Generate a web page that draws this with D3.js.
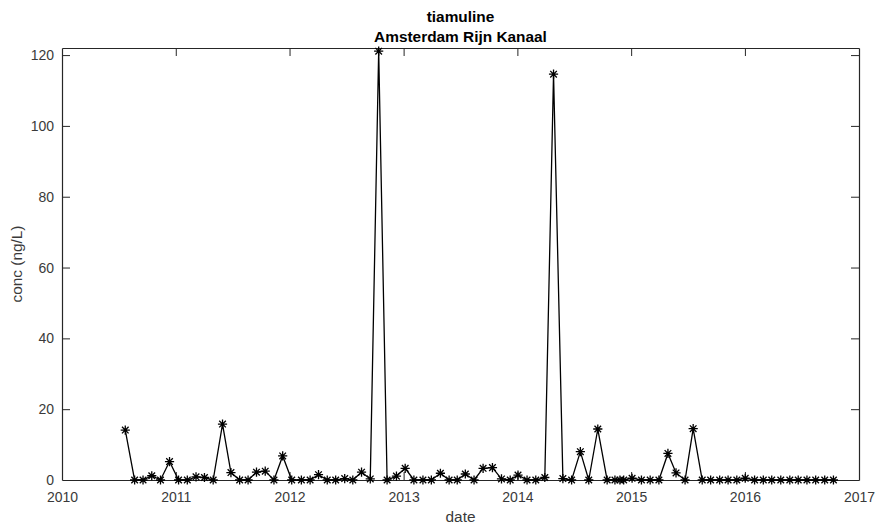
<!DOCTYPE html>
<html>
<head>
<meta charset="utf-8">
<script src="https://cdn.jsdelivr.net/npm/d3@7"></script>
<style>
  body { margin: 0; background: #fff; }
  svg { display: block; font-family: "Liberation Sans", Arial, sans-serif; }
</style>
</head>
<body>
<script>
// sample dates (4-weekly) and measured concentrations, ng/L
var sampleDates = [
  "2010-07-23","2010-08-22","2010-09-18","2010-10-16","2010-11-13","2010-12-12",
  "2011-01-10","2011-02-07","2011-03-07","2011-04-03","2011-05-01","2011-05-31",
  "2011-06-27","2011-07-25","2011-08-21","2011-09-17","2011-10-15","2011-11-12",
  "2011-12-10","2012-01-08","2012-02-08","2012-03-07","2012-04-03","2012-05-01",
  "2012-05-28","2012-06-26","2012-07-22","2012-08-19","2012-09-16","2012-10-13",
  "2012-11-09","2012-12-09","2013-01-06","2013-02-03","2013-03-04","2013-03-31",
  "2013-04-29","2013-05-27","2013-06-22","2013-07-18","2013-08-15","2013-09-13",
  "2013-10-13","2013-11-11","2013-12-09","2014-01-03","2014-02-01","2014-03-01",
  "2014-03-30","2014-04-27","2014-05-27","2014-06-24","2014-07-22","2014-08-18",
  "2014-09-16","2014-10-16","2014-11-10","2014-11-26","2014-12-08","2015-01-04",
  "2015-02-03","2015-03-03","2015-03-31","2015-04-29","2015-05-25","2015-06-23",
  "2015-07-19","2015-08-17","2015-09-13","2015-10-12","2015-11-08","2015-12-06",
  "2016-01-02","2016-02-01","2016-02-29","2016-03-27","2016-04-25","2016-05-24",
  "2016-06-20","2016-07-18","2016-08-15","2016-09-13","2016-10-11"
];
var concValues = [
  14.1, 0, 0, 1.2, 0, 5.2,
  0, 0, 0.9, 0.7, 0, 15.8,
  2.1, 0, 0, 2.2, 2.5, 0,
  6.8, 0, 0, 0, 1.5, 0,
  0, 0.4, 0, 2.2, 0.3, 121.1,
  0, 1.1, 3.3, 0, 0, 0,
  1.9, 0, 0, 1.7, 0, 3.3,
  3.5, 0.3, 0, 1.4, 0, 0,
  0.7, 114.6, 0.4, 0, 8.0, 0,
  14.4, 0, 0, 0, 0, 0.5,
  0, 0, 0, 7.5, 2.0, 0,
  14.5, 0, 0, 0, 0, 0,
  0.5, 0, 0, 0, 0, 0,
  0, 0, 0, 0, 0
];
var yearTicks = [2010, 2011, 2012, 2013, 2014, 2015, 2016, 2017];
var concTicks = [0, 20, 40, 60, 80, 100, 120];
var titleLines = ["tiamuline", "Amsterdam Rijn Kanaal"];

var width = 876, height = 532;
var margin = {top: 48, right: 17, bottom: 52, left: 62};
var plotW = width - margin.left - margin.right,
    plotH = height - margin.top - margin.bottom;
var axisColor = "#262626", tickLen = 8;

var parseDate = d3.timeParse("%Y-%m-%d");
var data = sampleDates.map(function(d, i){ return {date: parseDate(d), value: concValues[i]}; });

var svg = d3.select("body").append("svg")
  .attr("width", width)
  .attr("height", height);

var g = svg.append("g")
  .attr("transform", "translate(" + margin.left + "," + margin.top + ")");

var x = d3.scaleTime()
  .domain([new Date(yearTicks[0], 0, 1), new Date(yearTicks[yearTicks.length - 1], 0, 1)])
  .range([0, plotW]);
var y = d3.scaleLinear()
  .domain([0, 122])
  .range([plotH, 0]);

var xTickDates = yearTicks.map(function(yr){ return new Date(yr, 0, 1); });

//bottom and top axes, ticks pointing inward
var xBottom = g.append("g")
  .attr("transform", "translate(0," + plotH + ")")
  .call(d3.axisBottom(x).tickValues(xTickDates).tickFormat(d3.timeFormat("%Y"))
    .tickSizeInner(-tickLen).tickSizeOuter(0).tickPadding(12));
var xTop = g.append("g")
  .call(d3.axisTop(x).tickValues(xTickDates).tickFormat("")
    .tickSizeInner(-tickLen).tickSizeOuter(0));

//left and right axes
var yLeft = g.append("g")
  .call(d3.axisLeft(y).tickValues(concTicks)
    .tickSizeInner(-tickLen).tickSizeOuter(0).tickPadding(8));
var yRight = g.append("g")
  .attr("transform", "translate(" + plotW + ",0)")
  .call(d3.axisRight(y).tickValues(concTicks).tickFormat("")
    .tickSizeInner(-tickLen).tickSizeOuter(0));

[xBottom, xTop, yLeft, yRight].forEach(function(ax){
  ax.select(".domain").attr("stroke", axisColor).attr("stroke-width", 1.2);
  ax.selectAll(".tick line").attr("stroke", axisColor).attr("stroke-width", 1);
  ax.selectAll(".tick text")
    .attr("fill", "#3a3a3a")
    .style("font-size", "14px")
    .style("font-family", "'Liberation Sans', Arial, sans-serif");
});
//hide end ticks that sit on the box corners
xBottom.selectAll(".tick").filter(function(d, i){ return i === 0 || i === yearTicks.length - 1; })
  .select("line").remove();
xTop.selectAll(".tick").filter(function(d, i){ return i === 0 || i === yearTicks.length - 1; })
  .select("line").remove();
yLeft.selectAll(".tick").filter(function(d){ return d === 0; }).select("line").remove();
yRight.selectAll(".tick").filter(function(d){ return d === 0; }).select("line").remove();

//data line
var line = d3.line()
  .x(function(d){ return x(d.date); })
  .y(function(d){ return y(d.value); });

g.append("path")
  .datum(data)
  .attr("fill", "none")
  .attr("stroke", "#000")
  .attr("stroke-width", 1.3)
  .attr("d", line);

//asterisk markers
var r = 4.6, rd = r * 0.72;
var starPath = "M" + (-r) + ",0L" + r + ",0" +
  "M0," + (-r) + "L0," + r +
  "M" + (-rd) + "," + (-rd) + "L" + rd + "," + rd +
  "M" + (-rd) + "," + rd + "L" + rd + "," + (-rd);

g.append("g")
  .selectAll("path")
  .data(data)
  .enter()
  .append("path")
  .attr("transform", function(d){ return "translate(" + x(d.date) + "," + y(d.value) + ")"; })
  .attr("d", starPath)
  .attr("fill", "none")
  .attr("stroke", "#000")
  .attr("stroke-width", 1.3);

//title
svg.append("g")
  .selectAll("text")
  .data(titleLines)
  .enter()
  .append("text")
  .attr("x", margin.left + plotW / 2)
  .attr("y", function(d, i){ return 22 + i * 20; })
  .attr("text-anchor", "middle")
  .attr("fill", "#000")
  .style("font-size", "15.4px")
  .style("font-weight", "bold")
  .text(function(d){ return d; });

//axis labels
svg.append("text")
  .attr("x", margin.left + plotW / 2)
  .attr("y", 522)
  .attr("text-anchor", "middle")
  .attr("fill", "#3a3a3a")
  .style("font-size", "15.4px")
  .text("date");

svg.append("text")
  .attr("transform", "translate(22," + (margin.top + plotH / 2) + ") rotate(-90)")
  .attr("text-anchor", "middle")
  .attr("fill", "#3a3a3a")
  .style("font-size", "15.4px")
  .text("conc (ng/L)");
</script>
</body>
</html>
